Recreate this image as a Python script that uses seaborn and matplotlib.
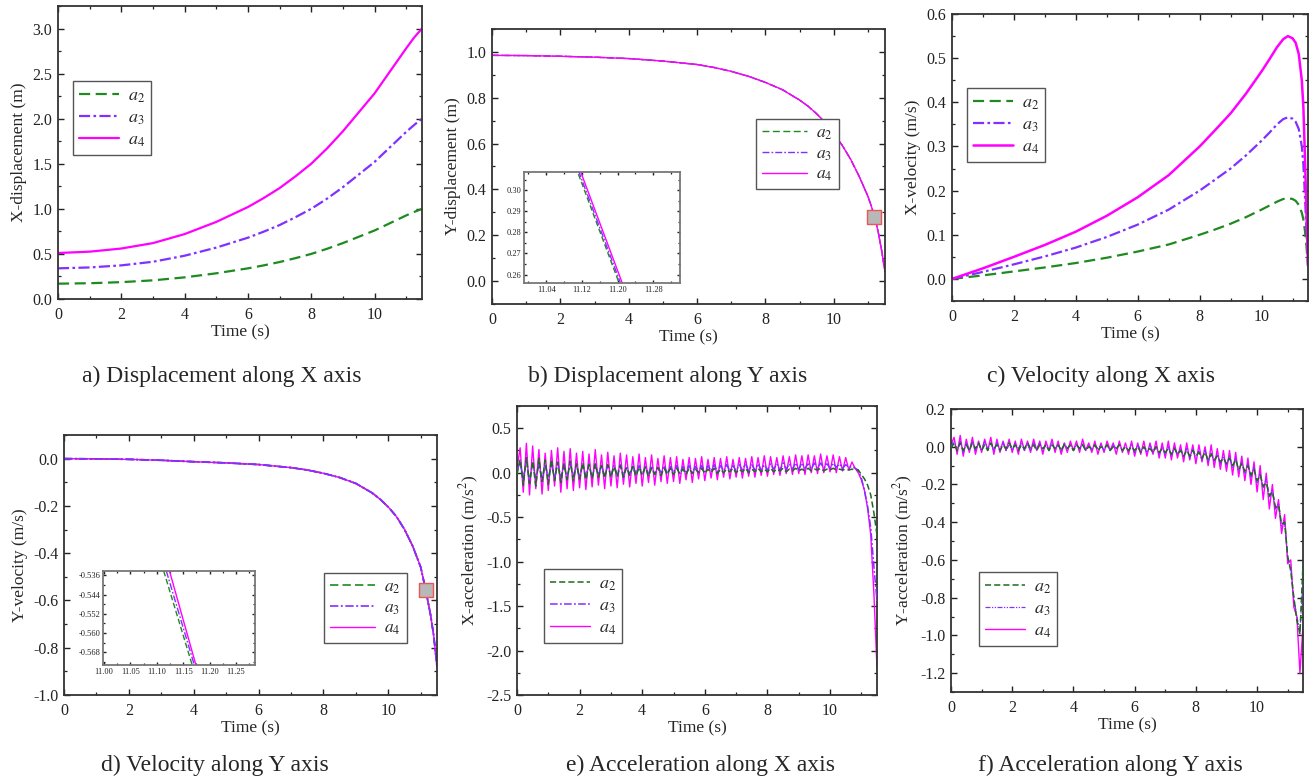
import matplotlib
matplotlib.use("Agg")
import matplotlib.pyplot as plt
import seaborn as sns
from matplotlib.ticker import MultipleLocator, FormatStrFormatter

sns.set_style("ticks")
plt.rcParams["font.family"] = ["Liberation Serif", "DejaVu Serif"]
plt.rcParams["mathtext.fontset"] = "stix"
plt.rcParams["axes.unicode_minus"] = False

# ---- data ----
labels = ["$a_2$", "$a_3$", "$a_4$"]

# a) X displacement
t_a = [0, 1, 2, 3, 4, 5, 6, 6.5, 7, 7.5, 8, 8.5, 9, 9.5, 10, 10.5, 11, 11.25, 11.5]
xd_a2 = [0.17, 0.175, 0.187, 0.207, 0.24, 0.285, 0.34, 0.373, 0.41, 0.453, 0.5, 0.557,
         0.62, 0.69, 0.76, 0.843, 0.927, 0.965, 1.0]
xd_a3 = [0.34, 0.35, 0.373, 0.413, 0.48, 0.57, 0.68, 0.747, 0.82, 0.907, 1.0, 1.113,
         1.24, 1.38, 1.52, 1.687, 1.853, 1.93, 2.0]
xd_a4 = [0.51, 0.525, 0.56, 0.62, 0.72, 0.855, 1.02, 1.12, 1.23, 1.36, 1.50, 1.67,
         1.86, 2.07, 2.28, 2.53, 2.78, 2.9, 3.0]

# b) Y displacement (curves coincide)
t_b = [0, 1, 2, 3, 4, 5, 6, 6.5, 7, 7.5, 8, 8.5, 9, 9.25, 9.5, 9.75, 10, 10.25, 10.5,
       10.75, 11, 11.1, 11.2, 11.3, 11.4, 11.5]
yd = [0.985, 0.984, 0.981, 0.977, 0.971, 0.96, 0.945, 0.932, 0.915, 0.894, 0.867,
      0.835, 0.79, 0.763, 0.73, 0.692, 0.645, 0.592, 0.53, 0.455, 0.37, 0.327, 0.28,
      0.215, 0.135, 0.04]
yd_mark = (11.18, 0.28)
# inset of b
ybz_y = [0.315, 0.250]
ybz_t_a2 = [11.099, 11.214]
ybz_t_a3 = [11.102, 11.217]
ybz_t_a4 = [11.106, 11.221]

# c) X velocity
t_c = [0, 1, 2, 3, 4, 5, 6, 7, 8, 8.5, 9, 9.5, 10, 10.25, 10.5, 10.7, 10.85, 11.0,
       11.1, 11.2, 11.3, 11.35, 11.4, 11.45, 11.5]
xv_a2 = [0, 0.008, 0.017, 0.026, 0.036, 0.048, 0.062, 0.078, 0.1, 0.112, 0.125, 0.14,
         0.157, 0.166, 0.175, 0.181, 0.183, 0.181, 0.177, 0.168, 0.15, 0.135, 0.11,
         0.075, 0.03]
xv_a3 = [0, 0.016, 0.033, 0.051, 0.071, 0.095, 0.123, 0.157, 0.2, 0.225, 0.25, 0.28,
         0.313, 0.331, 0.35, 0.362, 0.366, 0.363, 0.356, 0.34, 0.3, 0.26, 0.19, 0.11,
         0.04]
xv_a4 = [0, 0.024, 0.05, 0.077, 0.107, 0.143, 0.185, 0.235, 0.30, 0.337, 0.375, 0.42,
         0.47, 0.497, 0.525, 0.543, 0.55, 0.545, 0.535, 0.51, 0.45, 0.39, 0.28, 0.15,
         0.03]

# d) Y velocity (curves coincide)
t_d = [0, 1, 2, 3, 4, 5, 6, 7, 7.5, 8, 8.5, 9, 9.5, 9.75, 10, 10.25, 10.5, 10.75, 11,
       11.15, 11.3, 11.4, 11.5]
yv = [0.0, -0.001, -0.003, -0.007, -0.013, -0.018, -0.025, -0.038, -0.048, -0.062,
      -0.08, -0.105, -0.145, -0.172, -0.205, -0.245, -0.3, -0.37, -0.46, -0.555, -0.66,
      -0.75, -0.88]
yv_mark = (11.16, -0.556)
# inset of d
ydz_y = [-0.5342, -0.5733]
ydz_t_a2 = [11.113, 11.167]
ydz_t_a3 = [11.118, 11.171]
ydz_t_a4 = [11.124, 11.174]

# e), f) accelerations sampled every 0.1 s
t_acc = [0.0, 0.1, 0.2, 0.3, 0.4, 0.5, 0.6, 0.7, 0.8, 0.9,
         1.0, 1.1, 1.2, 1.3, 1.4, 1.5, 1.6, 1.7, 1.8, 1.9,
         2.0, 2.1, 2.2, 2.3, 2.4, 2.5, 2.6, 2.7, 2.8, 2.9,
         3.0, 3.1, 3.2, 3.3, 3.4, 3.5, 3.6, 3.7, 3.8, 3.9,
         4.0, 4.1, 4.2, 4.3, 4.4, 4.5, 4.6, 4.7, 4.8, 4.9,
         5.0, 5.1, 5.2, 5.3, 5.4, 5.5, 5.6, 5.7, 5.8, 5.9,
         6.0, 6.1, 6.2, 6.3, 6.4, 6.5, 6.6, 6.7, 6.8, 6.9,
         7.0, 7.1, 7.2, 7.3, 7.4, 7.5, 7.6, 7.7, 7.8, 7.9,
         8.0, 8.1, 8.2, 8.3, 8.4, 8.5, 8.6, 8.7, 8.8, 8.9,
         9.0, 9.1, 9.2, 9.3, 9.4, 9.5, 9.6, 9.7, 9.8, 9.9,
         10.0, 10.1, 10.2, 10.3, 10.4, 10.5, 10.6, 10.7, 10.8, 10.9,
         11.0, 11.1, 11.2, 11.3, 11.4, 11.5]

xa_a2 = [-0.02, 0.15, -0.14, 0.17, -0.12, 0.13, -0.15, 0.16, -0.10, 0.14,
         -0.13, 0.15, -0.09, 0.12, -0.11, 0.10, -0.08, 0.13, -0.09, 0.10,
         -0.07, 0.11, -0.08, 0.09, -0.06, 0.10, -0.05, 0.08, -0.06, 0.09,
         -0.05, 0.07, -0.04, 0.08, -0.05, 0.06, -0.03, 0.07, -0.04, 0.06,
         -0.03, 0.06, -0.04, 0.05, -0.02, 0.06, -0.03, 0.05, -0.02, 0.05,
         -0.02, 0.05, -0.01, 0.04, -0.02, 0.05, -0.01, 0.04, 0.00, 0.05,
         -0.01, 0.04, 0.00, 0.05, -0.01, 0.04, 0.00, 0.04, 0.01, 0.05,
         0.00, 0.04, 0.01, 0.05, 0.00, 0.04, 0.01, 0.05, 0.01, 0.04,
         0.01, 0.05, 0.01, 0.04, 0.02, 0.05, 0.01, 0.04, 0.02, 0.05,
         0.02, 0.04, 0.02, 0.05, 0.02, 0.04, 0.03, 0.05, 0.02, 0.04,
         0.03, 0.05, 0.03, 0.04, 0.03, 0.04, 0.03, 0.04, 0.03, 0.03,
         -0.02, -0.07, -0.14, -0.25, -0.45, -0.7]
xa_a3 = [0.02, 0.12, -0.08, 0.14, -0.10, 0.11, -0.07, 0.10, -0.09, 0.09,
         -0.06, 0.10, -0.07, 0.11, -0.05, 0.09, -0.06, 0.10, -0.04, 0.08,
         -0.05, 0.09, -0.04, 0.10, -0.05, 0.08, -0.03, 0.09, -0.04, 0.08,
         -0.03, 0.08, -0.02, 0.09, -0.03, 0.07, -0.02, 0.08, -0.01, 0.08,
         -0.02, 0.07, -0.01, 0.08, -0.02, 0.07, 0.00, 0.08, -0.01, 0.07,
         0.00, 0.08, -0.01, 0.07, 0.01, 0.08, 0.00, 0.07, 0.01, 0.08,
         0.01, 0.08, 0.02, 0.09, 0.01, 0.08, 0.02, 0.09, 0.02, 0.08,
         0.02, 0.09, 0.03, 0.10, 0.02, 0.09, 0.03, 0.10, 0.03, 0.09,
         0.03, 0.10, 0.04, 0.10, 0.03, 0.11, 0.04, 0.10, 0.04, 0.11,
         0.04, 0.11, 0.05, 0.10, 0.04, 0.11, 0.05, 0.11, 0.05, 0.10,
         0.05, 0.11, 0.06, 0.10, 0.05, 0.09, 0.06, 0.07, 0.05, 0.03,
         -0.06, -0.2, -0.38, -0.62, -1.05, -1.45]
xa_a4 = [0.05, 0.28, -0.22, 0.33, -0.25, 0.30, -0.18, 0.26, -0.24, 0.22,
         -0.20, 0.25, -0.15, 0.28, -0.22, 0.24, -0.18, 0.27, -0.20, 0.22,
         -0.17, 0.24, -0.19, 0.21, -0.16, 0.26, -0.14, 0.20, -0.18, 0.23,
         -0.15, 0.19, -0.17, 0.22, -0.13, 0.20, -0.16, 0.18, -0.12, 0.21,
         -0.15, 0.17, -0.11, 0.20, -0.14, 0.16, -0.10, 0.19, -0.12, 0.17,
         -0.10, 0.18, -0.12, 0.15, -0.08, 0.17, -0.11, 0.16, -0.07, 0.18,
         -0.09, 0.15, -0.06, 0.17, -0.08, 0.16, -0.05, 0.18, -0.07, 0.15,
         -0.05, 0.17, -0.06, 0.16, -0.04, 0.18, -0.05, 0.17, -0.03, 0.19,
         -0.04, 0.18, -0.02, 0.17, -0.03, 0.19, -0.01, 0.18, -0.02, 0.20,
         -0.01, 0.19, -0.02, 0.20, 0.00, 0.19, -0.01, 0.21, 0.00, 0.19,
         0.01, 0.20, 0.00, 0.18, 0.02, 0.17, 0.03, 0.12, 0.05, 0.00,
         -0.08, -0.2, -0.4, -0.7, -1.35, -2.2]

ya_a2 = [-0.01, 0.02, -0.02, 0.02, -0.02, 0.01, -0.02, 0.02, -0.01, 0.02,
         -0.02, 0.01, -0.02, 0.02, -0.01, 0.01, -0.02, 0.01, -0.01, 0.02,
         -0.01, 0.01, -0.02, 0.01, -0.01, 0.02, -0.01, 0.01, -0.02, 0.01,
         -0.01, 0.01, -0.02, 0.01, -0.01, 0.01, -0.02, 0.01, -0.01, 0.01,
         -0.02, 0.01, -0.01, 0.01, -0.02, 0.00, -0.01, 0.01, -0.02, 0.00,
         -0.01, 0.01, -0.02, 0.00, -0.01, 0.01, -0.02, 0.00, -0.02, 0.00,
         -0.02, 0.00, -0.03, 0.00, -0.02, -0.01, -0.03, 0.00, -0.03, -0.01,
         -0.03, -0.01, -0.04, -0.01, -0.04, -0.02, -0.05, -0.02, -0.05, -0.02,
         -0.05, -0.03, -0.06, -0.03, -0.07, -0.04, -0.07, -0.05, -0.08, -0.06,
         -0.09, -0.06, -0.10, -0.07, -0.12, -0.09, -0.13, -0.10, -0.15, -0.12,
         -0.18, -0.15, -0.21, -0.19, -0.26, -0.24, -0.32, -0.31, -0.41, -0.40,
         -0.58, -0.66, -0.80, -0.92, -0.99, -0.62]
ya_a3 = [0.00, 0.03, -0.02, 0.03, -0.03, 0.02, -0.02, 0.03, -0.02, 0.02,
         -0.02, 0.03, -0.01, 0.02, -0.02, 0.02, -0.01, 0.02, -0.02, 0.01,
         -0.02, 0.02, -0.01, 0.02, -0.02, 0.01, -0.02, 0.02, -0.01, 0.02,
         -0.02, 0.01, -0.02, 0.02, -0.01, 0.01, -0.02, 0.02, -0.01, 0.01,
         -0.02, 0.01, -0.01, 0.02, -0.02, 0.01, -0.02, 0.01, -0.01, 0.01,
         -0.02, 0.01, -0.02, 0.01, -0.01, 0.01, -0.02, 0.00, -0.02, 0.01,
         -0.03, 0.01, -0.02, 0.00, -0.03, 0.01, -0.03, 0.00, -0.04, 0.00,
         -0.04, 0.00, -0.05, 0.00, -0.04, -0.01, -0.05, -0.01, -0.06, -0.01,
         -0.06, -0.02, -0.07, -0.02, -0.08, -0.03, -0.08, -0.04, -0.09, -0.05,
         -0.10, -0.05, -0.11, -0.06, -0.13, -0.08, -0.14, -0.09, -0.16, -0.11,
         -0.19, -0.14, -0.22, -0.17, -0.27, -0.23, -0.33, -0.30, -0.42, -0.40,
         -0.59, -0.64, -0.80, -0.90, -0.98, -0.72]
ya_a4 = [0.01, 0.05, -0.04, 0.06, -0.05, 0.04, -0.03, 0.05, -0.04, 0.03,
         -0.03, 0.04, -0.02, 0.05, -0.04, 0.04, -0.03, 0.03, -0.02, 0.04,
         -0.03, 0.03, -0.04, 0.04, -0.02, 0.03, -0.03, 0.04, -0.02, 0.03,
         -0.04, 0.03, -0.02, 0.04, -0.03, 0.03, -0.04, 0.02, -0.03, 0.03,
         -0.02, 0.03, -0.03, 0.04, -0.02, 0.02, -0.03, 0.03, -0.04, 0.02,
         -0.03, 0.03, -0.02, 0.02, -0.04, 0.03, -0.03, 0.02, -0.04, 0.03,
         -0.05, 0.02, -0.04, 0.03, -0.05, 0.02, -0.04, 0.03, -0.06, 0.02,
         -0.06, 0.03, -0.07, 0.02, -0.06, 0.01, -0.08, 0.02, -0.07, 0.01,
         -0.09, 0.01, -0.08, 0.00, -0.10, 0.01, -0.11, -0.01, -0.12, -0.02,
         -0.13, -0.02, -0.15, -0.03, -0.16, -0.05, -0.18, -0.06, -0.20, -0.08,
         -0.24, -0.10, -0.28, -0.14, -0.33, -0.20, -0.38, -0.28, -0.46, -0.36,
         -0.62, -0.60, -0.85, -0.90, -1.20, -0.95]

captions = ["a) Displacement along X axis", "b) Displacement along Y axis",
            "c) Velocity along X axis", "d) Velocity along Y axis",
            "e) Acceleration along X axis", "f) Acceleration along Y axis"]

GREEN = "#1f8a1f"
PURPLE = "#8030ff"
MAGENTA = "#ff00ff"

W, H = 1310, 780
fig = plt.figure(figsize=(W / 100, H / 100), dpi=100)


def px_axes(l, t, r, b):
    return fig.add_axes([l / W, 1 - b / H, (r - l) / W, (b - t) / H])


def style(ax, ymaj, ylim, yfmt="%.1f", xmaj=2, xlim=(0, 11.5), fs=11.5, spine="#333333"):
    ax.set_xlim(xlim)
    ax.set_ylim(ylim)
    ax.xaxis.set_major_locator(MultipleLocator(xmaj))
    ax.xaxis.set_minor_locator(MultipleLocator(xmaj / 2))
    ax.yaxis.set_major_locator(MultipleLocator(ymaj))
    ax.yaxis.set_minor_locator(MultipleLocator(ymaj / 2))
    ax.yaxis.set_major_formatter(FormatStrFormatter(yfmt))
    ax.tick_params(which="both", direction="in", top=True, right=True,
                   labelsize=fs, colors="#222222")
    ax.tick_params(which="major", length=4.5, width=1.0)
    ax.tick_params(axis="x", which="major", pad=6)
    ax.tick_params(axis="y", which="major", pad=4)
    ax.tick_params(which="minor", length=2.5, width=0.9)
    for s in ax.spines.values():
        s.set_linewidth(1.3)
        s.set_color(spine)


def line(ax, x, y, color, ls, lw, label=None, z=2):
    sns.lineplot(x=x, y=y, ax=ax, color=color, linestyle=ls, linewidth=lw,
                 label=label, sort=False, errorbar=None, zorder=z)


def legend(ax, x, y, fs=13, hl=2.2):
    h, l = ax.get_legend_handles_labels()
    order = [l.index(lab) for lab in labels]
    ax.legend([h[i] for i in order], [l[i] for i in order], loc="upper left",
              bbox_to_anchor=(x / W, 1 - y / H), bbox_transform=fig.transFigure,
              borderaxespad=0, fontsize=fs, frameon=True, fancybox=False,
              edgecolor="#555555", framealpha=1, handlelength=hl,
              handletextpad=0.5, labelspacing=0.25, borderpad=0.35)


def labels_xy(ax, ylab, fs=12.5):
    ax.set_xlabel("Time (s)", fontsize=fs, labelpad=1)
    ax.set_ylabel(ylab, fontsize=fs, labelpad=4)


DASHDOT = (0, (5, 1.5, 1.2, 1.5))
DASHDOTDOT = (0, (4, 1.2, 1, 1.2, 1, 1.2))

# ---- a ----
ax = px_axes(58, 6, 422, 299)
line(ax, t_a, xd_a2, GREEN, (0, (5, 2.5)), 1.6, labels[0])
line(ax, t_a, xd_a3, PURPLE, DASHDOT, 1.6, labels[1])
line(ax, t_a, xd_a4, MAGENTA, "-", 1.6, labels[2])
style(ax, 0.5, (0, 3.25))
labels_xy(ax, "X-displacement (m)")
legend(ax, 73, 81)

# ---- b ----
ax = px_axes(492, 29, 885, 304)
line(ax, t_b, yd, GREEN, (0, (5, 2.5)), 1.0, labels[0])
line(ax, t_b, yd, PURPLE, DASHDOT, 1.0, labels[1])
line(ax, t_b, yd, MAGENTA, "-", 1.0, labels[2])
sns.scatterplot(x=[yd_mark[0]], y=[yd_mark[1]], ax=ax, marker="s", s=110,
                color="#b8b8b8", edgecolor="#ee5555", linewidth=1.0, zorder=5)
style(ax, 0.2, (-0.1, 1.1))
labels_xy(ax, "Y-displacement (m)")
legend(ax, 756, 119, fs=12.5, hl=2.6)

axi = px_axes(524, 172, 680, 283)
line(axi, ybz_t_a2, ybz_y, GREEN, (0, (4, 2)), 1.0)
line(axi, ybz_t_a3, ybz_y, PURPLE, DASHDOT, 1.0)
line(axi, ybz_t_a4, ybz_y, MAGENTA, "-", 1.0)
style(axi, 0.01, (0.256, 0.3086), yfmt="%.2f", xmaj=0.08, xlim=(10.99, 11.34),
      fs=6, spine="#777777")
axi.xaxis.set_major_formatter(FormatStrFormatter("%.2f"))
axi.tick_params(which="major", length=2.5, pad=2)
axi.tick_params(which="minor", length=1.5)

# ---- c ----
ax = px_axes(952, 14, 1308, 301)
line(ax, t_c, xv_a2, GREEN, (0, (5, 2.5)), 1.6, labels[0])
line(ax, t_c, xv_a3, PURPLE, DASHDOT, 1.6, labels[1])
line(ax, t_c, xv_a4, MAGENTA, "-", 1.8, labels[2])
style(ax, 0.1, (-0.05, 0.6))
labels_xy(ax, "X-velocity (m/s)")
legend(ax, 967, 88)

# ---- d ----
ax = px_axes(64, 435, 437, 695)
line(ax, t_d, yv, GREEN, (0, (5, 2.5)), 1.2, labels[0])
line(ax, t_d, yv, PURPLE, DASHDOT, 1.2, labels[1])
line(ax, t_d, yv, MAGENTA, "-", 1.0, labels[2])
line(ax, t_d, yv, PURPLE, DASHDOT, 1.2)
sns.scatterplot(x=[yv_mark[0]], y=[yv_mark[1]], ax=ax, marker="s", s=100,
                color="#b8b8b8", edgecolor="#ee5555", linewidth=1.0, zorder=5)
style(ax, 0.2, (-1.0, 0.1))
labels_xy(ax, "Y-velocity (m/s)")
legend(ax, 324, 573, fs=12.5, hl=2.6)

axi = px_axes(103, 571, 255, 665)
line(axi, ydz_t_a2, ydz_y, GREEN, (0, (4, 2)), 1.0)
line(axi, ydz_t_a3, ydz_y, PURPLE, DASHDOT, 1.0)
line(axi, ydz_t_a4, ydz_y, MAGENTA, "-", 1.0)
style(axi, 0.008, (-0.5733, -0.5342), yfmt="%.3f", xmaj=0.05, xlim=(10.998, 11.286),
      fs=6, spine="#777777")
axi.xaxis.set_major_formatter(FormatStrFormatter("%.2f"))
axi.tick_params(which="major", length=2.5, pad=2)
axi.tick_params(which="minor", length=1.5)

# ---- e ----
ax = px_axes(517, 406, 877, 695)
line(ax, t_acc, xa_a4, MAGENTA, "-", 1.0, labels[2], z=2)
line(ax, t_acc, xa_a3, PURPLE, DASHDOT, 1.1, labels[1], z=3)
line(ax, t_acc, xa_a2, "#1d6b1d", (0, (4, 2)), 1.1, labels[0], z=4)
style(ax, 0.5, (-2.5, 0.75))
labels_xy(ax, "X-acceleration (m/s$^2$)")
legend(ax, 544, 569)

# ---- f ----
ax = px_axes(951, 409, 1303, 692)
line(ax, t_acc, ya_a4, MAGENTA, "-", 1.0, labels[2], z=2)
line(ax, t_acc, ya_a3, PURPLE, DASHDOTDOT, 0.9, labels[1], z=3)
line(ax, t_acc, ya_a2, "#1d6b1d", (0, (4, 2)), 1.1, labels[0], z=4)
style(ax, 0.2, (-1.3, 0.2))
labels_xy(ax, "Y-acceleration (m/s$^2$)")
legend(ax, 979, 572)

# ---- captions ----
cap_pos = [(222, 376), (668, 376), (1101, 376), (215, 765), (701, 765), (1110, 765)]
for txt, (cx, cy) in zip(captions, cap_pos):
    fig.text(cx / W, 1 - cy / H, txt, ha="center", va="center", fontsize=17)

fig.savefig("out.png", dpi=100)
